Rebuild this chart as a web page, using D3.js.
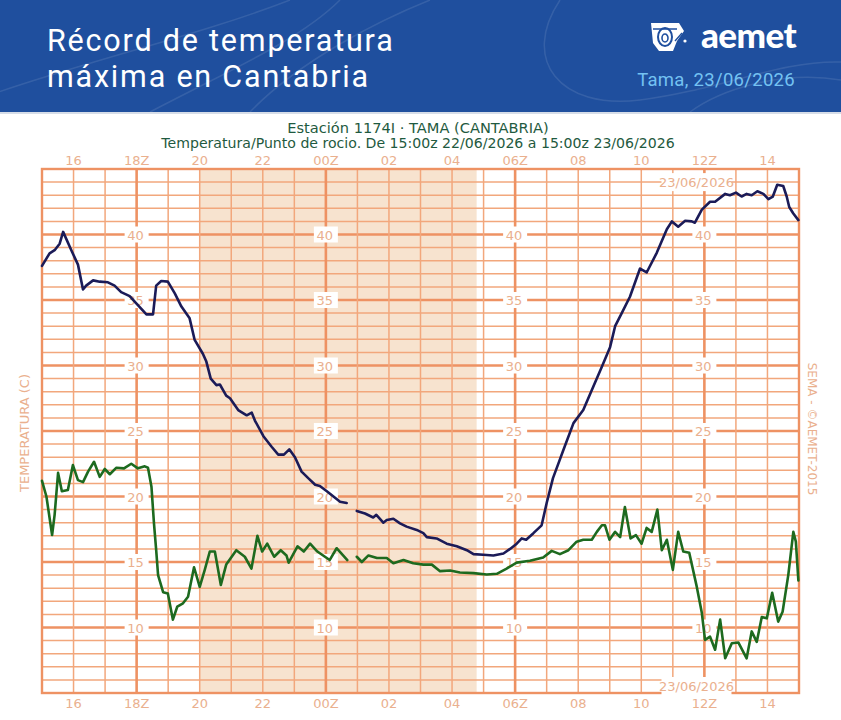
<!DOCTYPE html>
<html>
<head>
<meta charset="utf-8">
<script src="https://cdn.jsdelivr.net/npm/d3@7"></script>
<style>
  html, body { margin: 0; padding: 0; background: #fff; }
  svg { display: block; }
</style>
</head>
<body>
<svg id="chart" width="841" height="720"></svg>
<script>
"use strict";

/* hours after 15:00z 22/06/2026, values in degrees C; null = gap in record */
const tempHours = [0, 0.24, 0.4, 0.56, 0.67, 0.93, 1.14, 1.3, 1.4, 1.62, 1.83, 2.09, 2.3, 2.51, 2.78, 3.04, 3.31, 3.52, 3.62, 3.78, 3.99, 4.21, 4.42, 4.68, 4.84, 5.1, 5.21, 5.35, 5.53, 5.64, 5.84, 5.96, 6.22, 6.49, 6.65, 6.75, 7.02, 7.28, 7.49, 7.67, 7.84, 8.02, 8.23, 8.44, 8.66, 8.81, 9.03, 9.24, 9.45, 9.66, 9.82, 9.98, 10.24, 10.5, 10.6, 10.82, 10.93, 11.14, 11.35, 11.56, 11.88, 12.09, 12.2, 12.51, 12.83, 13.15, 13.47, 13.68, 13.99, 14.31, 14.63, 14.84, 15.05, 15.21, 15.35, 15.58, 15.84, 16.0, 16.2, 16.4, 16.53, 16.85, 17.16, 17.48, 17.75, 18.01, 18.17, 18.38, 18.64, 18.96, 19.17, 19.49, 19.81, 19.97, 20.17, 20.39, 20.6, 20.7, 20.92, 21.18, 21.34, 21.66, 21.81, 22.0, 22.18, 22.34, 22.5, 22.68, 22.87, 23.03, 23.17, 23.31, 23.5, 23.61, 23.69, 23.82, 23.98];
const tempValues = [37.6, 38.56, 38.8, 39.3, 40.2, 38.8, 37.7, 35.8, 36.1, 36.5, 36.4, 36.35, 36.1, 35.6, 35.3, 34.6, 33.9, 33.9, 36.1, 36.45, 36.4, 35.5, 34.5, 33.6, 31.95, 30.9, 30.3, 29.0, 28.5, 28.55, 27.7, 27.5, 26.6, 26.2, 26.4, 25.8, 24.6, 23.8, 23.2, 23.2, 23.6, 23.0, 21.9, 21.4, 20.9, 20.8, 20.4, 20.0, 19.6, 19.5, null, 18.9, 18.7, 18.4, 18.6, 18.0, 18.2, 18.3, 17.95, 17.7, 17.45, 17.2, 16.9, 16.8, 16.4, 16.2, 15.9, 15.6, 15.55, 15.5, 15.65, 16.0, 16.4, 16.8, 16.7, 17.2, 17.8, 19.5, 21.4, 22.7, 23.55, 25.6, 26.6, 28.4, 29.9, 31.4, 33.0, 34.0, 35.25, 37.4, 37.1, 38.6, 40.4, 41.0, 40.6, 41.05, 41.0, 40.9, 41.9, 42.5, 42.5, 43.1, 43.0, 43.2, 42.9, 43.1, 43.0, 43.3, 43.1, 42.7, 42.9, 43.8, 43.7, 42.9, 42.1, 41.6, 41.1];

const dewHours = [0, 0.14, 0.32, 0.4, 0.51, 0.63, 0.82, 0.98, 1.14, 1.3, 1.46, 1.65, 1.83, 1.99, 2.15, 2.36, 2.6, 2.83, 3.04, 3.26, 3.36, 3.47, 3.55, 3.62, 3.68, 3.84, 3.99, 4.15, 4.29, 4.47, 4.63, 4.82, 5.0, 5.16, 5.32, 5.48, 5.67, 5.84, 6.16, 6.43, 6.64, 6.83, 6.98, 7.14, 7.36, 7.57, 7.75, 7.82, 8.1, 8.3, 8.5, 8.73, 9.12, 9.34, 9.68, 9.82, 9.98, 10.14, 10.35, 10.62, 10.93, 11.14, 11.46, 11.77, 12.09, 12.36, 12.62, 12.94, 13.25, 13.68, 14.1, 14.42, 14.73, 15.05, 15.47, 15.89, 16.16, 16.42, 16.69, 16.95, 17.16, 17.43, 17.59, 17.75, 17.85, 17.99, 18.17, 18.33, 18.48, 18.66, 18.83, 19.01, 19.17, 19.33, 19.51, 19.65, 19.81, 20.0, 20.17, 20.33, 20.52, 20.76, 20.92, 21.02, 21.18, 21.34, 21.5, 21.66, 21.87, 22.08, 22.34, 22.5, 22.66, 22.82, 22.98, 23.15, 23.34, 23.48, 23.66, 23.82, 23.9, 23.98];
const dewValues = [21.2, 20.0, 17.06, 18.6, 21.8, 20.4, 20.5, 22.4, 21.25, 21.1, 21.9, 22.65, 21.5, 22.1, 21.7, 22.2, 22.15, 22.5, 22.15, 22.3, 22.2, 20.75, 17.95, 15.9, 14.0, 12.7, 12.6, 10.6, 11.6, 11.85, 12.35, 14.6, 13.1, 14.4, 15.8, 15.8, 13.25, 14.8, 15.9, 15.4, 14.5, 17.0, 15.8, 16.4, 15.4, 15.9, 15.5, 14.95, 16.2, 15.8, 16.4, 15.8, 15.15, 16.05, 15.15, null, 15.4, 15.0, 15.5, 15.3, 15.3, 14.9, 15.15, 14.9, 14.8, 14.8, 14.3, 14.35, 14.2, 14.15, 14.05, 14.1, 14.5, 14.95, 15.1, 15.35, 15.85, 15.6, 15.9, 16.55, 16.7, 16.7, 17.3, 17.8, 17.8, 16.7, 17.3, 16.9, 19.2, 16.8, 17.05, 16.4, 17.6, 17.3, 19.0, 15.9, 16.7, 14.4, 17.3, 15.8, 15.7, 13.1, 11.1, 9.05, 9.3, 8.3, 10.6, 7.65, 8.8, 8.85, 7.65, 9.7, 8.9, 10.8, 10.7, 12.65, 10.45, 11.2, 14.0, 17.3, 16.55, 13.6];

/* axis labels */
const hourTicks = [1, 3, 5, 7, 9, 11, 13, 15, 17, 19, 21, 23];
const hourLabels = ["16", "18Z", "20", "22", "00Z", "02", "04", "06Z", "08", "10", "12Z", "14"];
const synopticHours = [3, 9, 15, 21];          // 18Z, 00Z, 06Z, 12Z
const tempLabels = [10, 15, 20, 25, 30, 35, 40];
const nightBand = [5.0, 13.78];                  // shaded night hours

const svg = d3.select("#chart");
const W = 841;

/* -- header banner --------------------------------------------------------- */
const head = svg.append("g");
head.append("rect").attr("width", W).attr("height", 112).attr("fill", "#1f4f9e");
const swirl = head.append("g").attr("fill", "none").attr("stroke", "#ffffff")
  .attr("stroke-opacity", 0.1).attr("stroke-width", 1.5);
swirl.append("path").attr("d", "M-10,95 C90,60 200,35 290,0");
swirl.append("path").attr("d", "M150,112 C230,70 300,40 340,0");
swirl.append("path").attr("d", "M250,112 C300,60 380,20 430,0");
swirl.append("path").attr("d", "M560,0 C520,60 560,110 640,100 C720,90 780,60 841,62");
swirl.append("path").attr("d", "M690,112 C720,90 780,70 841,80");

const titleFont = "Roboto, 'Noto Sans', sans-serif";
head.append("text").attr("x", 47).attr("y", 51)
  .attr("font-family", titleFont).attr("font-size", 30.5).attr("letter-spacing", 1.8)
  .attr("fill", "#fff").text("Récord de temperatura");
head.append("text").attr("x", 47).attr("y", 86.5)
  .attr("font-family", titleFont).attr("font-size", 30.5).attr("letter-spacing", 1.8)
  .attr("fill", "#fff").text("máxima en Cantabria");

/* aemet logo */
const logo = head.append("g").attr("transform", "translate(667,37)");
logo.append("path").attr("d", "M-16,-14 L12,-14 L17,-6 L10,4 L6,14 L-8,14 L-14,6 Z").attr("fill", "#fff");
logo.append("ellipse").attr("cx", -2).attr("cy", 0).attr("rx", 7).attr("ry", 9)
  .attr("fill", "none").attr("stroke", "#1f4f9e").attr("stroke-width", 2);
logo.append("ellipse").attr("cx", -2).attr("cy", 1).attr("rx", 3).attr("ry", 4)
  .attr("fill", "none").attr("stroke", "#1f4f9e").attr("stroke-width", 1.6);
logo.append("path").attr("d", "M-14,-8 L10,-8 M8,4 L15,-4").attr("stroke", "#1f4f9e").attr("stroke-width", 1.4);
logo.append("circle").attr("cx", 18).attr("cy", 4).attr("r", 1.6).attr("fill", "#fff");
head.append("text").attr("x", 796).attr("y", 48).attr("text-anchor", "end")
  .attr("font-family", "Lato, 'Open Sans', sans-serif").attr("font-weight", 900)
  .attr("font-size", 35).attr("letter-spacing", -0.6).attr("fill", "#fff").text("aemet");

head.append("text").attr("x", 795).attr("y", 86).attr("text-anchor", "end")
  .attr("font-family", titleFont).attr("font-size", 18.5).attr("letter-spacing", 0.3)
  .attr("fill", "#74c2f2").text("Tama, 23/06/2026");
svg.append("rect").attr("y", 112).attr("width", W).attr("height", 2).attr("fill", "#d6dde8");

/* -- chart ---------------------------------------------------------------- */
const x = d3.scaleLinear([0, 24], [42, 799]);
const y = d3.scaleLinear([5, 45], [693, 169]);
const GRID = "#f2a77c";
const GRID_BOLD = "#ee9263";
const LABEL = "#eab08e";
const SMALL_FONT = "'Liberation Sans Narrow', 'DejaVu Sans', sans-serif";

svg.append("text").attr("x", 418).attr("y", 133).attr("text-anchor", "middle")
  .attr("font-family", "'DejaVu Sans', Verdana, sans-serif").attr("font-size", 14.6)
  .attr("fill", "#1f5a40").text("Estación 1174I · TAMA (CANTABRIA)");
svg.append("text").attr("x", 418).attr("y", 148).attr("text-anchor", "middle")
  .attr("font-family", "'DejaVu Sans', Verdana, sans-serif").attr("font-size", 14.1)
  .attr("fill", "#1f5a40")
  .text("Temperatura/Punto de rocio. De 15:00z 22/06/2026 a 15:00z 23/06/2026");

svg.append("rect")
  .attr("x", x(nightBand[0])).attr("y", y(45))
  .attr("width", x(nightBand[1]) - x(nightBand[0])).attr("height", y(5) - y(45))
  .attr("fill", "#f7e3cf");

const grid = svg.append("g");
grid.selectAll("line.h").data(d3.range(6, 45)).join("line")
  .attr("x1", x(0)).attr("x2", x(24)).attr("y1", (d) => y(d)).attr("y2", (d) => y(d))
  .attr("stroke", (d) => (d % 5 === 0 ? GRID_BOLD : GRID))
  .attr("stroke-width", (d) => (d % 5 === 0 ? 2.6 : 1.5));
grid.selectAll("line.v").data(d3.range(1, 24)).join("line")
  .attr("y1", y(5)).attr("y2", y(45)).attr("x1", (d) => x(d)).attr("x2", (d) => x(d))
  .attr("stroke", (d) => (synopticHours.includes(d) ? GRID_BOLD : GRID))
  .attr("stroke-width", (d) => (synopticHours.includes(d) ? 2.6 : 1.5));
grid.append("rect").attr("x", x(0)).attr("y", y(45))
  .attr("width", x(24) - x(0)).attr("height", y(5) - y(45))
  .attr("fill", "none").attr("stroke", GRID_BOLD).attr("stroke-width", 2.4);

/* temperature labels on the synoptic lines */
const tl = svg.append("g").attr("font-family", SMALL_FONT)
  .attr("font-size", 13).attr("fill", LABEL).attr("text-anchor", "middle");
for (const h of synopticHours) {
  for (const t of tempLabels) {
    tl.append("rect").attr("x", x(h) - 12).attr("y", y(t) - 8).attr("width", 24).attr("height", 16).attr("fill", "#fff");
    tl.append("text").attr("x", x(h) - 1).attr("y", y(t) + 5).text(t);
  }
}

/* date labels at 12Z */
for (const [t, dy] of [[44, 0], [5, -7]]) {
  svg.append("rect").attr("x", x(20.75) - 35).attr("y", y(t) + dy - 9).attr("width", 70).attr("height", 18).attr("fill", "#fff");
  svg.append("text").attr("x", x(20.75)).attr("y", y(t) + dy + 5).attr("text-anchor", "middle")
    .attr("font-family", SMALL_FONT).attr("font-size", 13).attr("fill", LABEL).text("23/06/2026");
}

/* hour labels top and bottom */
const hl = svg.append("g").attr("font-family", SMALL_FONT)
  .attr("font-size", 13).attr("fill", LABEL).attr("text-anchor", "middle");
hourTicks.forEach((h, i) => {
  hl.append("text").attr("x", x(h)).attr("y", 165).text(hourLabels[i]);
  hl.append("text").attr("x", x(h)).attr("y", 708).text(hourLabels[i]);
});

svg.append("text").attr("transform", `translate(29,${(y(5) + y(45)) / 2 + 2}) rotate(-90)`)
  .attr("text-anchor", "middle").attr("font-family", SMALL_FONT)
  .attr("font-size", 13).attr("fill", LABEL).text("TEMPERATURA (C)");
svg.append("text").attr("transform", `translate(808,${(y(5) + y(45)) / 2 - 2}) rotate(90)`)
  .attr("text-anchor", "middle").attr("font-family", SMALL_FONT)
  .attr("font-size", 12).attr("fill", LABEL).text("SEMA - ©AEMET-2015");

/* series */
const line = d3.line().defined((d) => d[1] !== null).x((d) => x(d[0])).y((d) => y(d[1]));
const series = [
  { hours: dewHours, values: dewValues, color: "#1d6a1f" },
  { hours: tempHours, values: tempValues, color: "#1b1b58" },
];
for (const s of series) {
  svg.append("path")
    .datum(d3.zip(s.hours, s.values))
    .attr("d", line)
    .attr("fill", "none")
    .attr("stroke", s.color)
    .attr("stroke-width", 2.6)
    .attr("stroke-linejoin", "round")
    .attr("stroke-linecap", "round");
}
</script>
</body>
</html>
